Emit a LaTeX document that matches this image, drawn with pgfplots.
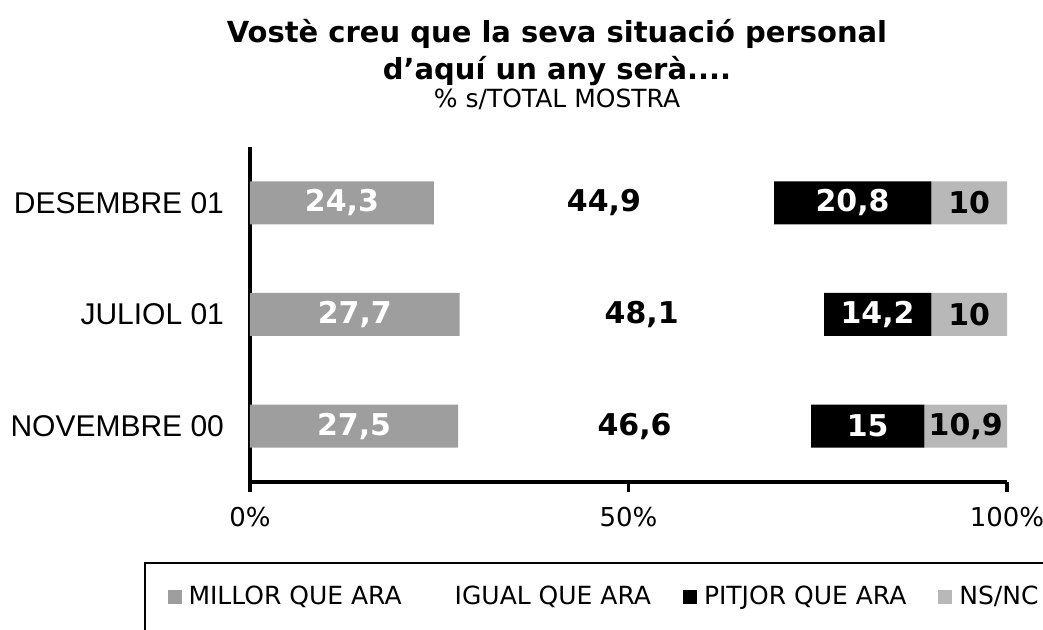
\documentclass[border=0pt]{standalone}
\usepackage{fontspec}
\setmainfont{DejaVu Sans}
\newfontfamily\arialfont{Liberation Sans}
\usepackage{pgfplots}
\pgfplotsset{compat=1.18}

\definecolor{millor}{gray}{0.62}
\definecolor{nsnc}{gray}{0.72}

\begin{document}
\begin{tikzpicture}
\begin{axis}[
    name=ax, at={(0,0)}, anchor=south west,
    scale only axis, width=378.5pt, height=167.5pt,
    xbar stacked, bar width=21.5pt,
    xmin=0, xmax=100, ymin=-0.5, ymax=2.5,
    axis x line*=bottom, axis y line*=left,
    axis line style={line width=1.6pt},
    xtick={0,50,100}, xticklabels={0\%,50\%,100\%},
    ytick={0,1,2}, yticklabels={NOVEMBRE 00, JULIOL 01, DESEMBRE 01},
    tick align=outside, major tick length=5pt,
    xtick style={line width=1.6pt, black},
    ytick style={draw=none},
    x tick label style={font=\fontsize{13}{15}\selectfont, yshift=-4pt},
    y tick label style={font=\arialfont\fontsize{15}{18}\selectfont, xshift=-4.5pt},
    /pgf/number format/assume math mode=true,
    /pgf/number format/use comma,
    point meta=rawx,
    nodes near coords,
    every node near coord/.append style={anchor=center,
        font=\bfseries\fontsize{15}{18}\selectfont},
    legend columns=4,
    legend style={draw=none, fill=none, at={(-0.1174,-0.343)}, anchor=west,
        font=\fontsize{12.5}{14}\selectfont, column sep=1.5pt,
        /tikz/every even column/.append style={column sep=14pt}},
    legend image code/.code={\fill[#1] (0pt,-3.5pt) rectangle (7pt,3.5pt);},
]
\addplot[fill=millor, draw=none, every node near coord/.append style={text=white}]
    coordinates {(27.5,0) (27.7,1) (24.3,2)};
\addplot[fill=white, draw=none]
    coordinates {(46.6,0) (48.1,1) (44.9,2)};
\addplot[fill=black, draw=none, every node near coord/.append style={text=white}]
    coordinates {(15,0) (14.2,1) (20.8,2)};
\addplot[fill=nsnc, draw=none]
    coordinates {(10.9,0) (10,1) (10,2)};
\legend{MILLOR QUE ARA, IGUAL QUE ARA, PITJOR QUE ARA, NS/NC}
\end{axis}

% title
\node[anchor=base, font=\bfseries\fontsize{14.5}{17}\selectfont] at (153.5pt,219.5pt) {Vostè creu que la seva situació personal};
\node[anchor=base, font=\bfseries\fontsize{14.5}{17}\selectfont] at (153.5pt,201pt) {d’aquí un any serà....};
\node[anchor=base, font=\fontsize{12.5}{15}\selectfont] at (153.5pt,187pt) {\% s/TOTAL MOSTRA};

% legend frame, cut by the page edge
\draw[line width=1.4pt] (-52.5pt,-90pt) -- (-52.5pt,-40.5pt) -- (420pt,-40.5pt);

\pgfresetboundingbox
\path[use as bounding box] (-125pt,-74pt) rectangle (396.5pt,241pt);
\end{tikzpicture}
\end{document}
